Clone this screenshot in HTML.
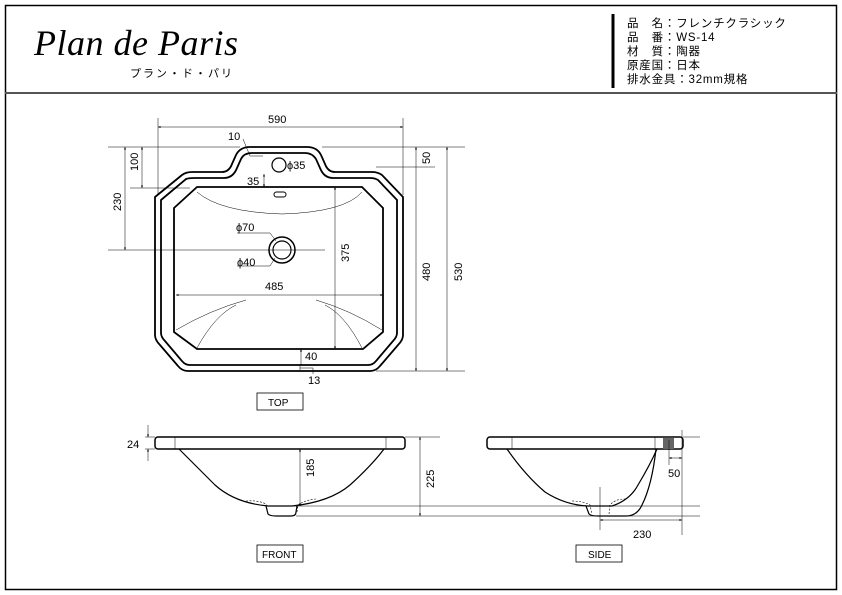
<!DOCTYPE html>
<html><head><meta charset="utf-8"><style>
html,body{margin:0;padding:0;background:#fff;}
svg{display:block;}
text{font-family:"Liberation Sans","Noto Sans CJK JP",sans-serif;fill:#000;}
</style></head><body>
<svg width="842" height="595" viewBox="0 0 842 595" xmlns="http://www.w3.org/2000/svg">
<defs>
<marker id="a" markerWidth="6" markerHeight="6" refX="5" refY="3" orient="auto-start-reverse"><path d="M0,1 L5,3 L0,5 Z" fill="#000"/></marker>
</defs>
<rect x="5.5" y="5.5" width="831" height="584" fill="none" stroke="#000" stroke-width="1.5"/>
<line x1="5" y1="93" x2="837" y2="93" stroke="#555" stroke-width="2"/>
<text x="34" y="55" font-style="italic" font-size="36" letter-spacing="0.5" style="font-family:'Liberation Serif',serif">Plan de Paris</text>
<text x="130" y="77" font-size="11" letter-spacing="2" style="font-family:'Liberation Sans','Noto Sans CJK JP',sans-serif">プラン・ド・パリ</text>
<line x1="613" y1="14" x2="613" y2="88" stroke="#000" stroke-width="3"/>
<g font-size="11.5" letter-spacing="0.8" style="font-family:'Liberation Sans','Noto Sans CJK JP',sans-serif">
<text x="627" y="27">品　名：フレンチクラシック</text>
<text x="627" y="41">品　番：WS-14</text>
<text x="627" y="55">材　質：陶器</text>
<text x="627" y="69">原産国：日本</text>
<text x="627" y="83">排水金具：32mm規格</text>
</g>

<!-- TOP VIEW -->
<g fill="none" stroke="#000">
<path d="M155,197 L182,175 Q186,172 192,172 L222,172 Q229,172 232,164 L236,155 Q240,147 250,147 L307,147 Q317,147 321,155 L325,164 Q328,172 335,172 L372,172 Q378,172 382,175 L403,197 L403,335 Q403,340 398,345 L380,366 Q376,371 370,371 L188,371 Q182,371 178,366 L160,345 Q155,340 155,335 Z" stroke-width="1.8"/>
<path d="M161,200 L186,179 Q189,178 194,178 L224,178 Q233,178 237,168 L241,159 Q244,153 252,153 L305,153 Q312,153 316,159 L320,168 Q324,178 333,178 L370,178 Q375,178 378,180 L397,200 L397,333 Q397,337 393,341 L376,361 Q373,365 368,365 L190,365 Q185,365 182,361 L165,341 Q161,337 161,333 Z" stroke-width="1.8"/>
<path d="M174,208 L197,187 L362,187 L383,208 L383,332 L363,349 L197,349 L174,332 Z" stroke-width="1.8"/>
<path d="M197,192 Q220,212 282,214 Q345,212 362,192" stroke-width="0.5"/>
<path d="M176,330 Q210,310 246,300" stroke-width="0.5"/>
<path d="M197,348 Q215,315 236,305" stroke-width="0.5"/>
<path d="M382,330 Q350,310 316,300" stroke-width="0.5"/>
<path d="M362,348 Q345,315 325,305" stroke-width="0.5"/>
<circle cx="279" cy="165" r="7" stroke-width="1.2"/>
<rect x="274" y="192" width="12" height="5" rx="2.5" stroke-width="1"/>
<circle cx="282" cy="250" r="13" stroke-width="1.5"/>
<circle cx="282" cy="250" r="9" stroke-width="1.2"/>
</g>
<g stroke="#000" stroke-width="0.5" fill="none">
<line x1="158" y1="118" x2="158" y2="195"/>
<line x1="403" y1="118" x2="403" y2="195"/>
<line x1="158" y1="127" x2="403" y2="127" marker-start="url(#a)" marker-end="url(#a)"/>
<line x1="108" y1="147" x2="240" y2="147"/>
<line x1="322" y1="147" x2="465" y2="147"/>
<line x1="130" y1="188" x2="190" y2="188"/>
<line x1="108" y1="250" x2="325" y2="250"/>
<line x1="125" y1="147" x2="125" y2="250" marker-start="url(#a)" marker-end="url(#a)"/>
<line x1="142" y1="147" x2="142" y2="188" marker-start="url(#a)" marker-end="url(#a)"/>
<line x1="376" y1="167" x2="435" y2="167"/>
<line x1="416" y1="147" x2="416" y2="371" marker-start="url(#a)" marker-end="url(#a)"/>
<line x1="447" y1="147" x2="447" y2="371" marker-start="url(#a)" marker-end="url(#a)"/>
<line x1="376" y1="371" x2="465" y2="371"/>
<line x1="335" y1="187" x2="335" y2="349" marker-start="url(#a)" marker-end="url(#a)"/>
<line x1="176" y1="295" x2="383" y2="295" marker-start="url(#a)" marker-end="url(#a)"/>
<line x1="264" y1="174" x2="264" y2="187" marker-start="url(#a)" marker-end="url(#a)"/>
<line x1="301" y1="349" x2="301" y2="365" marker-start="url(#a)"/>
<line x1="300" y1="365" x2="300" y2="371"/>
<line x1="300" y1="368" x2="313" y2="368"/>
<line x1="313" y1="368" x2="313" y2="374"/>
<polyline points="243,139 250,156 263,156"/>
<polyline points="237,233 270,233 276,241"/>
<polyline points="237,266 270,266 275,258"/>
</g>
<g font-size="11">
<text x="268" y="123">590</text>
<text x="228" y="140">10</text>
<text x="287" y="169">ϕ35</text>
<text x="247" y="185">35</text>
<text x="236" y="231">ϕ70</text>
<text x="237" y="266">ϕ40</text>
<text x="265" y="290">485</text>
<text x="305" y="360">40</text>
<text x="308" y="384">13</text>
<text transform="translate(138,171) rotate(-90)">100</text>
<text transform="translate(121,211) rotate(-90)">230</text>
<text transform="translate(349,262) rotate(-90)">375</text>
<text transform="translate(430,164) rotate(-90)">50</text>
<text transform="translate(430,281) rotate(-90)">480</text>
<text transform="translate(462,281) rotate(-90)">530</text>
</g>
<rect x="257" y="393" width="46" height="17" fill="#fff" stroke="#000" stroke-width="0.8"/>
<text x="268" y="406" font-size="10">TOP</text>

<!-- FRONT -->
<g fill="none" stroke="#000">
<rect x="155" y="437" width="250" height="12" rx="3" stroke-width="1.5"/>
<line x1="175" y1="437" x2="175" y2="449" stroke-width="0.5"/>
<line x1="386" y1="437" x2="386" y2="449" stroke-width="0.5"/>
<path d="M179,449 Q200,470 215,485 Q235,503 268,506 L292,506 Q330,502 350,485 Q372,465 384,449" stroke-width="1.2"/>
<path d="M266,506 L268,514 Q270,516 276,516 L291,516 Q296,516 296,512 L297,506" stroke-width="1.2"/>
<path d="M246,501 Q258,500 266,504 L268,514" stroke-width="0.6" stroke-dasharray="2,1.5"/>
<path d="M297,512 L298,505 Q305,500 316,499" stroke-width="0.6" stroke-dasharray="2,1.5"/>
</g>
<g stroke="#000" stroke-width="0.5" fill="none">
<line x1="145" y1="437" x2="155" y2="437"/>
<line x1="145" y1="449" x2="155" y2="449"/>
<line x1="148" y1="425" x2="148" y2="437" marker-end="url(#a)"/>
<line x1="148" y1="461" x2="148" y2="449" marker-end="url(#a)"/>
<line x1="300" y1="449" x2="300" y2="506" marker-start="url(#a)" marker-end="url(#a)"/>
<line x1="405" y1="437" x2="440" y2="437"/>
<line x1="420" y1="437" x2="420" y2="516" marker-start="url(#a)" marker-end="url(#a)"/>
<line x1="292" y1="506" x2="700" y2="506"/>
<line x1="296" y1="516" x2="700" y2="516"/>
</g>
<text x="127" y="448" font-size="11">24</text>
<text transform="translate(314,477) rotate(-90)" font-size="11">185</text>
<text transform="translate(434,488) rotate(-90)" font-size="11">225</text>
<rect x="257" y="545" width="46" height="17" fill="#fff" stroke="#000" stroke-width="0.8"/>
<text x="262" y="558" font-size="10">FRONT</text>

<!-- SIDE -->
<g fill="none" stroke="#000">
<rect x="487" y="437" width="196" height="12" rx="3" stroke-width="1.5"/>
<line x1="512" y1="437" x2="512" y2="449" stroke-width="0.5"/>
<line x1="655" y1="437" x2="655" y2="449" stroke-width="0.5"/>
<rect x="663" y="438" width="11" height="11" fill="#666" stroke="none"/>
<path d="M507,449 Q525,475 545,492 Q565,505 588,506 L612,506 Q630,500 638,485 Q650,465 657,449" stroke-width="1.2"/>
<path d="M586,506 L589,514 Q591,516 598,516 L626,516 Q637,516 642,505 Q652,485 656,449" stroke-width="1.2"/>
<path d="M572,501 Q583,501 590,505 L592,514" stroke-width="0.6" stroke-dasharray="2,1.5"/>
<path d="M609,514 L610,505 Q615,499 625,499" stroke-width="0.6" stroke-dasharray="2,1.5"/>
</g>
<g stroke="#000" stroke-width="0.5" fill="none">
<line x1="683" y1="437" x2="700" y2="437"/>
<line x1="682" y1="430" x2="682" y2="535"/>
<line x1="669" y1="440" x2="669" y2="465"/>
<line x1="669" y1="458" x2="682" y2="458" marker-start="url(#a)" marker-end="url(#a)"/>
<line x1="600" y1="487" x2="600" y2="530"/>
<line x1="600" y1="520" x2="682" y2="520" marker-start="url(#a)" marker-end="url(#a)"/>
</g>
<text x="668" y="477" font-size="11">50</text>
<text x="633" y="538" font-size="11">230</text>
<rect x="576" y="545" width="46" height="17" fill="#fff" stroke="#000" stroke-width="0.8"/>
<text x="588" y="558" font-size="10">SIDE</text>
</svg>
</body></html>
